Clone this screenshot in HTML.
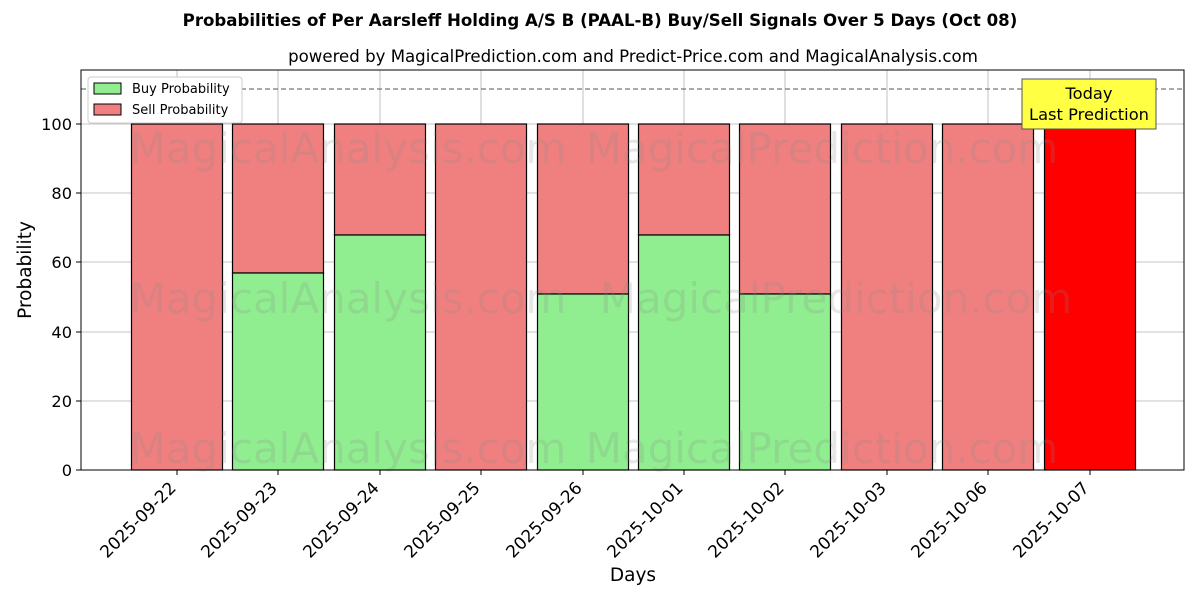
<!DOCTYPE html>
<html><head><meta charset="utf-8"><style>body{margin:0;background:#fff}svg{display:block}</style></head><body>
<svg width="1200" height="600" viewBox="0 0 1200 600" font-family="'DejaVu Sans', 'Liberation Sans', sans-serif">
<text x="600" y="26" text-anchor="middle" font-size="16.6" font-weight="bold">Probabilities of Per Aarsleff Holding A/S B (PAAL-B) Buy/Sell Signals Over 5 Days (Oct 08)</text>
<text x="633" y="62" text-anchor="middle" font-size="16.6">powered by MagicalPrediction.com and Predict-Price.com and MagicalAnalysis.com</text>
<g stroke="#b0b0b0" stroke-width="0.8">
<line x1="177" y1="70" x2="177" y2="470"/><line x1="278" y1="70" x2="278" y2="470"/><line x1="380" y1="70" x2="380" y2="470"/><line x1="481" y1="70" x2="481" y2="470"/><line x1="583" y1="70" x2="583" y2="470"/><line x1="684" y1="70" x2="684" y2="470"/><line x1="785" y1="70" x2="785" y2="470"/><line x1="887" y1="70" x2="887" y2="470"/><line x1="988" y1="70" x2="988" y2="470"/><line x1="1090" y1="70" x2="1090" y2="470"/>
<line x1="81" y1="401" x2="1184" y2="401"/><line x1="81" y1="332" x2="1184" y2="332"/><line x1="81" y1="262" x2="1184" y2="262"/><line x1="81" y1="193" x2="1184" y2="193"/><line x1="81" y1="124" x2="1184" y2="124"/>
</g>
<g stroke="#000" stroke-width="1.2">
<rect x="131.5" y="124" width="91" height="346" fill="#f08080"/>
<rect x="232.5" y="124" width="91" height="149" fill="#f08080"/><rect x="232.5" y="273" width="91" height="197" fill="#90ee90"/>
<rect x="334.5" y="124" width="91" height="111" fill="#f08080"/><rect x="334.5" y="235" width="91" height="235" fill="#90ee90"/>
<rect x="435.5" y="124" width="91" height="346" fill="#f08080"/>
<rect x="537.5" y="124" width="91" height="170" fill="#f08080"/><rect x="537.5" y="294" width="91" height="176" fill="#90ee90"/>
<rect x="638.5" y="124" width="91" height="111" fill="#f08080"/><rect x="638.5" y="235" width="91" height="235" fill="#90ee90"/>
<rect x="739.5" y="124" width="91" height="170" fill="#f08080"/><rect x="739.5" y="294" width="91" height="176" fill="#90ee90"/>
<rect x="841.5" y="124" width="91" height="346" fill="#f08080"/>
<rect x="942.5" y="124" width="91" height="346" fill="#f08080"/>
<rect x="1044.5" y="124" width="91" height="346" fill="#ff0000"/>
</g>
<g font-size="42" fill="#888" opacity="0.2" text-anchor="middle">
<text x="348" y="163">MagicalAnalysis.com</text><text x="822" y="163">MagicalPrediction.com</text>
<text x="348" y="313">MagicalAnalysis.com</text><text x="836" y="313">MagicalPrediction.com</text>
<text x="348" y="463">MagicalAnalysis.com</text><text x="822" y="463">MagicalPrediction.com</text>
</g>
<line x1="81" y1="89" x2="1184" y2="89" stroke="#777" stroke-width="1.2" stroke-dasharray="5,3"/>
<rect x="1022" y="79" width="134" height="50" fill="#ffff44" stroke="#555"/>
<text x="1089" y="99" text-anchor="middle" font-size="16.3">Today</text>
<text x="1089" y="120" text-anchor="middle" font-size="16.3">Last Prediction</text>
<rect x="81" y="70" width="1103" height="400" fill="none" stroke="#000" stroke-width="1"/>
<rect x="88" y="77" width="154" height="46" fill="#fff" stroke="#ccc" rx="3"/>
<rect x="94" y="83" width="27" height="11" fill="#90ee90" stroke="#000"/>
<text x="132" y="93" font-size="13">Buy Probability</text>
<rect x="94" y="104" width="27" height="11" fill="#f08080" stroke="#000"/>
<text x="132" y="114" font-size="13">Sell Probability</text>
<g font-size="16.2" text-anchor="end">
<text x="72" y="476">0</text><text x="72" y="407">20</text><text x="72" y="338">40</text><text x="72" y="268">60</text><text x="72" y="199">80</text><text x="72" y="130">100</text>
</g>
<g stroke="#000"><line x1="76" y1="470" x2="81" y2="470"/><line x1="76" y1="401" x2="81" y2="401"/><line x1="76" y1="332" x2="81" y2="332"/><line x1="76" y1="262" x2="81" y2="262"/><line x1="76" y1="193" x2="81" y2="193"/><line x1="76" y1="124" x2="81" y2="124"/>
<line x1="177" y1="470" x2="177" y2="475"/><line x1="278" y1="470" x2="278" y2="475"/><line x1="380" y1="470" x2="380" y2="475"/><line x1="481" y1="470" x2="481" y2="475"/><line x1="583" y1="470" x2="583" y2="475"/><line x1="684" y1="470" x2="684" y2="475"/><line x1="785" y1="470" x2="785" y2="475"/><line x1="887" y1="470" x2="887" y2="475"/><line x1="988" y1="470" x2="988" y2="475"/><line x1="1090" y1="470" x2="1090" y2="475"/></g>
<g font-size="17" text-anchor="end">
<text transform="translate(177,489) rotate(-45)">2025-09-22</text>
<text transform="translate(278,489) rotate(-45)">2025-09-23</text>
<text transform="translate(380,489) rotate(-45)">2025-09-24</text>
<text transform="translate(481,489) rotate(-45)">2025-09-25</text>
<text transform="translate(583,489) rotate(-45)">2025-09-26</text>
<text transform="translate(684,489) rotate(-45)">2025-10-01</text>
<text transform="translate(785,489) rotate(-45)">2025-10-02</text>
<text transform="translate(887,489) rotate(-45)">2025-10-03</text>
<text transform="translate(988,489) rotate(-45)">2025-10-06</text>
<text transform="translate(1090,489) rotate(-45)">2025-10-07</text>
</g>
<text x="633" y="581" text-anchor="middle" font-size="18.5">Days</text>
<text transform="translate(31,270) rotate(-90)" text-anchor="middle" font-size="18.5">Probability</text>
</svg>
</body></html>
